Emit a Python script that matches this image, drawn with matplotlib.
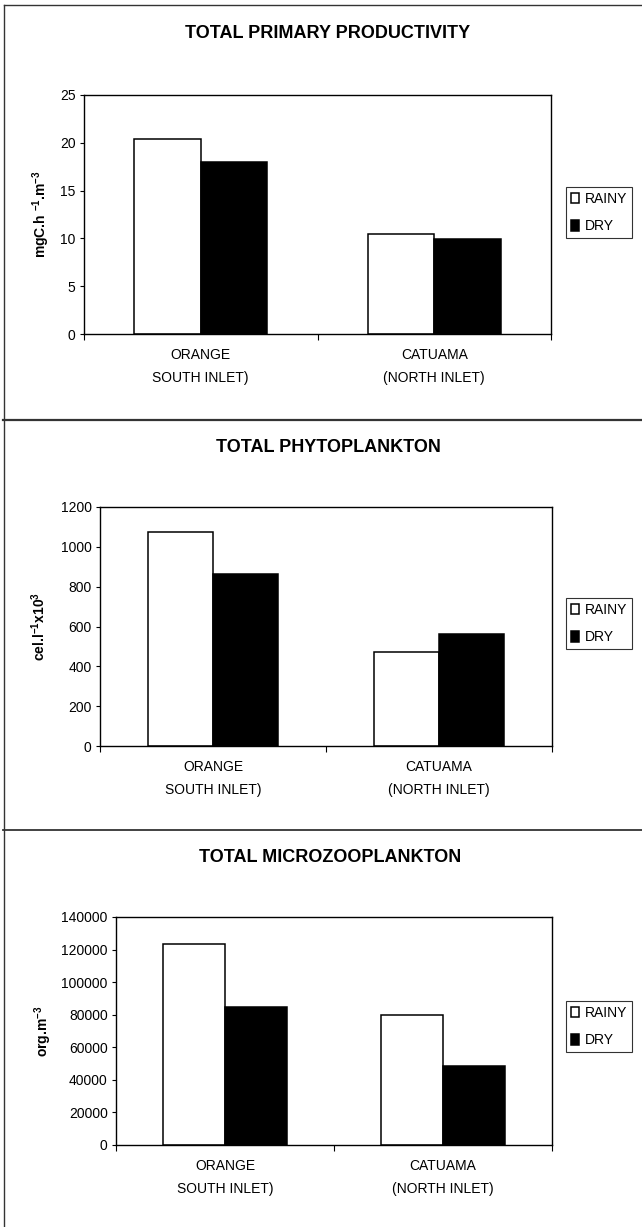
import numpy as np
import matplotlib.pyplot as plt
from matplotlib.lines import Line2D

plt.rcParams['font.family'] = ['Liberation Sans', 'DejaVu Sans']
plt.rcParams['mathtext.default'] = 'regular'

# ==================================================
# DADOS
# ==================================================
estacoes = ["ORANGE\nSOUTH INLET)", "CATUAMA\n(NORTH INLET)"]
series = ["RAINY", "DRY"]

produtividade_chuvoso = [20.4, 10.5]
produtividade_seco = [18.0, 9.9]

fito_chuvoso = [1073, 473]
fito_seco = [863, 561]

microzoo_chuvoso = [123600, 79800]
microzoo_seco = [84500, 48500]

titulos = ["TOTAL PRIMARY PRODUCTIVITY", "TOTAL PHYTOPLANKTON", "TOTAL MICROZOOPLANKTON"]
rotulos_y = ["mgC.h $^{-1}$.m$^{-3}$", "cel.l$^{-1}$x10$^{3}$", "org.m$^{-3}$"]
ticks_y = [[0, 5, 10, 15, 20, 25],
           [0, 200, 400, 600, 800, 1000, 1200],
           [0, 20000, 40000, 60000, 80000, 100000, 120000, 140000]]

# ==================================================
# LAYOUT (pixels)
# ==================================================
W, H = 642, 1227
# (esquerda, direita, topo, base) de cada eixo
caixas = [(84, 551, 95, 334), (100, 552, 507, 746), (116, 552, 917, 1145)]
titulo_y = [33, 447, 858]
titulo_x = [328, 328, 330]
rotulo_x = [41, 39, 43]
legenda_y = [187, 598, 1001]

fig = plt.figure(figsize=(W / 100, H / 100), dpi=100)


def fx(x):
    return x / W


def fy(y):
    return 1 - y / H


dados = [(produtividade_chuvoso, produtividade_seco),
         (fito_chuvoso, fito_seco),
         (microzoo_chuvoso, microzoo_seco)]

largura = 1 / 3.5  # gap width de 150%
x = np.arange(len(estacoes))

for i, (chuvoso, seco) in enumerate(dados):
    l, r, t, b = caixas[i]
    ax = fig.add_axes([fx(l), fy(b), (r - l) / W, (b - t) / H])
    ax.bar(x - largura / 2, chuvoso, largura, color='white', edgecolor='black',
           linewidth=1.1, label=series[0])
    ax.bar(x + largura / 2, seco, largura, color='black', edgecolor='black',
           linewidth=1.1, label=series[1])

    ax.set_xlim(-0.5, len(estacoes) - 0.5)
    ax.set_ylim(ticks_y[i][0], ticks_y[i][-1])
    ax.set_yticks(ticks_y[i])
    ax.tick_params(axis='y', length=3, width=0.8, pad=3, labelsize=10)

    # ticks nas divisas das categorias, rótulos no centro
    ax.set_xticks(np.arange(len(estacoes) + 1) - 0.5)
    ax.set_xticklabels([])
    ax.tick_params(axis='x', which='major', length=4, width=0.8)
    ax.set_xticks(x, minor=True)
    ax.set_xticklabels(estacoes, minor=True, fontsize=10, linespacing=1.8)
    ax.tick_params(axis='x', which='minor', length=0, pad=10)

    for s in ax.spines.values():
        s.set_linewidth(1.0)

    fig.text(fx(titulo_x[i]), fy(titulo_y[i]), titulos[i], ha='center', va='center',
             fontsize=13, fontweight='bold')
    fig.text(fx(rotulo_x[i]), fy((t + b) / 2), rotulos_y[i], rotation=90,
             ha='center', va='center', fontsize=10, fontweight='bold')

    leg = ax.legend(loc='upper left', bbox_to_anchor=(fx(566), fy(legenda_y[i])),
                    bbox_transform=fig.transFigure, fontsize=10, frameon=True,
                    fancybox=False, handlelength=0.6, handleheight=0.8,
                    handletextpad=0.4, labelspacing=0.95, borderpad=0.35,
                    borderaxespad=0)
    leg.get_frame().set_edgecolor('black')
    leg.get_frame().set_linewidth(0.8)

# moldura dos painéis
cor = '#333333'
fig.add_artist(Line2D([fx(4), fx(4)], [fy(5), fy(H)], color=cor, lw=1.0))
fig.add_artist(Line2D([fx(4), 1], [fy(5), fy(5)], color=cor, lw=1.0))
fig.add_artist(Line2D([fx(3), 1], [fy(420), fy(420)], color=cor, lw=1.6))
fig.add_artist(Line2D([fx(3), 1], [fy(830), fy(830)], color=cor, lw=1.3))

fig.savefig('out.png', dpi=100)
